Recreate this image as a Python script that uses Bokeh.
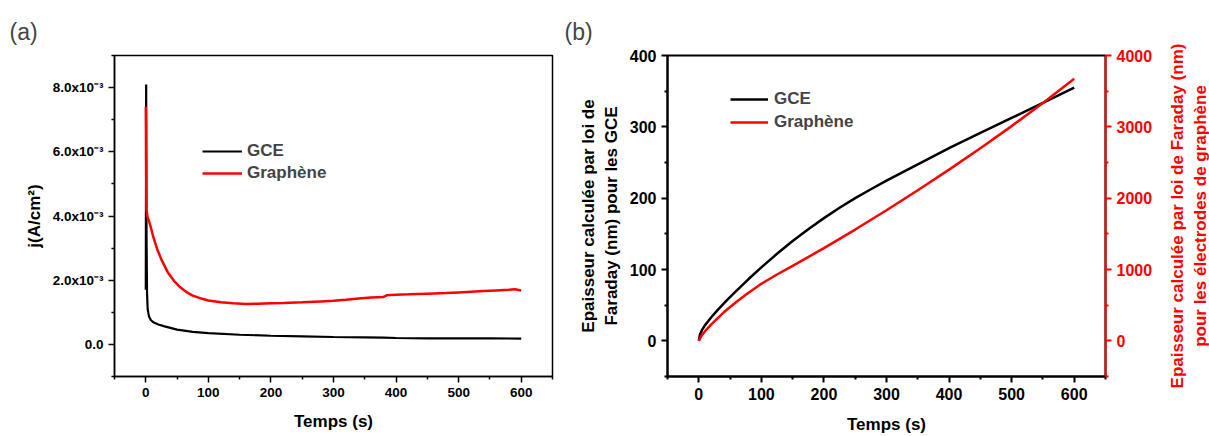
from bokeh.plotting import figure
from bokeh.models import Range1d, LinearAxis, FixedTicker, Legend, LegendItem
from bokeh.layouts import row
from bokeh.embed import file_html
from bokeh.resources import INLINE

# ---------------- data ----------------
# Panel (a): current density j (A/cm²) vs time (s)
t_gce_a = [0, 0.6, 1.2, 2, 3, 5, 8, 12, 20, 30, 50, 75, 100, 150, 200, 250, 300, 350, 380, 400, 450, 500, 550, 600]
j_gce_a = [1.7e-3, 8.1e-3, 3.3e-3, 1.6e-3, 1.1e-3, 0.88e-3, 0.76e-3, 0.69e-3, 0.62e-3, 0.56e-3, 0.46e-3, 0.39e-3,
           0.35e-3, 0.30e-3, 0.27e-3, 0.25e-3, 0.23e-3, 0.22e-3, 0.21e-3, 0.20e-3, 0.19e-3, 0.19e-3, 0.19e-3, 0.18e-3]

t_gra_a = [0, 1, 3, 5, 8, 12, 18, 25, 35, 45, 55, 65, 75, 90, 100, 120, 140, 160, 180, 200, 220, 250, 280, 300,
           320, 340, 360, 380, 385, 400, 420, 450, 480, 500, 520, 540, 560, 580, 590, 600]
j_gra_a = [7.4e-3, 4.2e-3, 3.95e-3, 3.85e-3, 3.65e-3, 3.35e-3, 2.98e-3, 2.64e-3, 2.25e-3, 1.98e-3, 1.78e-3, 1.63e-3,
           1.52e-3, 1.42e-3, 1.37e-3, 1.31e-3, 1.28e-3, 1.26e-3, 1.27e-3, 1.28e-3, 1.29e-3, 1.31e-3, 1.34e-3, 1.36e-3,
           1.39e-3, 1.43e-3, 1.46e-3, 1.48e-3, 1.53e-3, 1.55e-3, 1.56e-3, 1.58e-3, 1.60e-3, 1.62e-3, 1.64e-3, 1.66e-3,
           1.68e-3, 1.70e-3, 1.72e-3, 1.68e-3]

# Panel (b): thickness (nm) vs time (s)
t_gce_b = [0, 2, 5, 10, 20, 30, 45, 60, 80, 100, 125, 150, 175, 200, 225, 250, 275, 300, 350, 400, 450, 500, 550, 600]
e_gce_b = [0, 9, 15, 22, 33, 43, 57, 70, 87, 103, 122, 140, 156.5, 172, 186.5, 200, 212.5, 224.5, 247.5, 270,
           291.5, 312.5, 333.5, 355]
t_gra_b = [0, 2, 5, 10, 20, 30, 40, 50, 60, 75, 100, 125, 150, 200, 250, 300, 350, 400, 450, 500, 550, 600]
e_gra_b = [0, 35, 80, 135, 230, 315, 400, 475, 545, 645, 800, 930, 1050, 1300, 1560, 1830, 2110, 2400, 2700,
           3010, 3335, 3674]

# ticks
x_major = [0, 100, 200, 300, 400, 500, 600]
x_minor = [-50, 50, 150, 250, 350, 450, 550, 650]
ya_major = [0.0, 0.002, 0.004, 0.006, 0.008]
ya_labels = ["0.0", "2.0x10\u207b\u00b3", "4.0x10\u207b\u00b3", "6.0x10\u207b\u00b3", "8.0x10\u207b\u00b3"]
ya_minor = [-0.001, 0.001, 0.003, 0.005, 0.007, 0.009]
yb_major = [0, 100, 200, 300, 400]
yb_minor = [-50, 50, 150, 250, 350]
yr_major = [0, 1000, 2000, 3000, 4000]
yr_minor = [-500, 500, 1500, 2500, 3500]

series_names = ["GCE", "Graphène"]
colors = ["black", "#ff0000"]

FONT = "Liberation Sans"


def style_axis(ax, tick_size, color="black", lw=1.5):
    ax.major_label_text_font = FONT
    ax.major_label_text_font_style = "bold"
    ax.major_label_text_font_size = tick_size
    ax.major_label_text_color = color
    ax.axis_label_text_font = FONT
    ax.axis_label_text_font_style = "bold"
    ax.axis_label_text_font_size = "17px"
    ax.axis_label_text_color = color
    ax.axis_line_color = color
    ax.axis_line_width = lw
    ax.major_tick_line_color = color
    ax.minor_tick_line_color = color
    ax.major_tick_line_width = lw
    ax.minor_tick_line_width = lw
    ax.major_tick_in = 0
    ax.major_tick_out = 6
    ax.minor_tick_in = 0
    ax.minor_tick_out = 3
    ax.major_label_standoff = 5


def style_title(p, text, offset):
    p.title.text = text
    p.title.align = "left"
    p.title.offset = offset
    p.title.standoff = 21
    p.title.text_font = FONT
    p.title.text_font_style = "normal"
    p.title.text_font_size = "23px"


# ---------------- panel (a) ----------------
p1 = figure(width=560, height=436, x_range=Range1d(-50, 650), y_range=Range1d(-0.001, 0.009),
            output_backend="svg", toolbar_location=None,
            min_border_left=114, min_border_right=8, min_border_top=55, min_border_bottom=58)
style_title(p1, "(a)", -105)
p1.grid.visible = False
p1.outline_line_color = "black"
p1.outline_line_width = 1.5
p1.xaxis.ticker = FixedTicker(ticks=x_major, minor_ticks=x_minor)
p1.yaxis.ticker = FixedTicker(ticks=ya_major, minor_ticks=ya_minor)
p1.yaxis.major_label_overrides = dict(zip(ya_major, ya_labels))
p1.xaxis.axis_label = "Temps (s)"
p1.yaxis.axis_label = "j(A/cm²)"
style_axis(p1.xaxis[0], "13.5px")
style_axis(p1.yaxis[0], "13.5px")
p1.xaxis.axis_label_standoff = 12
p1.yaxis.axis_label_standoff = 6

ra1 = p1.line(t_gce_a, j_gce_a, line_color=colors[0], line_width=2.2)
ra2 = p1.line(t_gra_a, j_gra_a, line_color=colors[1], line_width=2.5)

leg1 = Legend(items=[LegendItem(label=series_names[0], renderers=[ra1]),
                     LegendItem(label=series_names[1], renderers=[ra2])],
              location=(88, 193), padding=0, margin=0, spacing=2,
              glyph_width=40, glyph_height=20, label_height=20, label_standoff=5,
              label_text_font=FONT, label_text_font_style="bold", label_text_font_size="17px",
              border_line_color=None, background_fill_alpha=0)
p1.add_layout(leg1)

# ---------------- panel (b) ----------------
p2 = figure(width=604, height=436, x_range=Range1d(-50, 650), y_range=Range1d(-50, 400),
            output_backend="svg", toolbar_location=None,
            min_border_left=107, min_border_right=59, min_border_top=54, min_border_bottom=60)
style_title(p2, "(b)", -103)
p2.grid.visible = False
p2.outline_line_color = "black"
p2.outline_line_width = 2
p2.extra_y_ranges = {"right": Range1d(-500, 4000)}
p2.xaxis.ticker = FixedTicker(ticks=x_major, minor_ticks=x_minor)
p2.yaxis.ticker = FixedTicker(ticks=yb_major, minor_ticks=yb_minor)
p2.xaxis.axis_label = "Temps (s)"
p2.yaxis.axis_label = "Epaisseur calculée par loi de\nFaraday (nm) pour les GCE"
style_axis(p2.xaxis[0], "16px", lw=2)
style_axis(p2.yaxis[0], "16px", lw=2)
p2.xaxis.axis_label_standoff = 12
p2.yaxis.axis_label_standoff = 6

raxis = LinearAxis(y_range_name="right", ticker=FixedTicker(ticks=yr_major, minor_ticks=yr_minor))
style_axis(raxis, "16px", color=colors[1], lw=2)
p2.add_layout(raxis, "right")

rb1 = p2.line(t_gce_b, e_gce_b, line_color=colors[0], line_width=2.5)
rb2 = p2.line(t_gra_b, e_gra_b, line_color=colors[1], line_width=2.5, y_range_name="right")

leg2 = Legend(items=[LegendItem(label=series_names[0], renderers=[rb1]),
                     LegendItem(label=series_names[1], renderers=[rb2])],
              location=(63, 244), padding=0, margin=0, spacing=3,
              glyph_width=38, glyph_height=20, label_height=20, label_standoff=6,
              label_text_font=FONT, label_text_font_style="bold", label_text_font_size="17px",
              border_line_color=None, background_fill_alpha=0)
p2.add_layout(leg2)

# ---------------- strip holding the right-axis title of (b), read bottom-to-top ----------------
p3 = figure(width=45, height=436, x_range=Range1d(0, 1), y_range=Range1d(-500, 4000),
            output_backend="svg", toolbar_location=None, x_axis_location=None,
            min_border_left=44, min_border_right=0, min_border_top=54, min_border_bottom=60)
p3.grid.visible = False
p3.outline_line_color = None
p3.yaxis.ticker = FixedTicker(ticks=[])
p3.yaxis.axis_label = "Epaisseur calculée par loi de Faraday (nm)\npour les électrodes de graphène"
style_axis(p3.yaxis[0], "16px", color=colors[1], lw=2)
p3.yaxis.axis_line_color = None
p3.yaxis.major_tick_out = 0
p3.yaxis.minor_tick_out = 0
p3.yaxis.major_label_standoff = 0
p3.yaxis.axis_label_standoff = 0

layout = row(p1, p2, p3)
open("out.html", "w").write(file_html(layout, INLINE))
